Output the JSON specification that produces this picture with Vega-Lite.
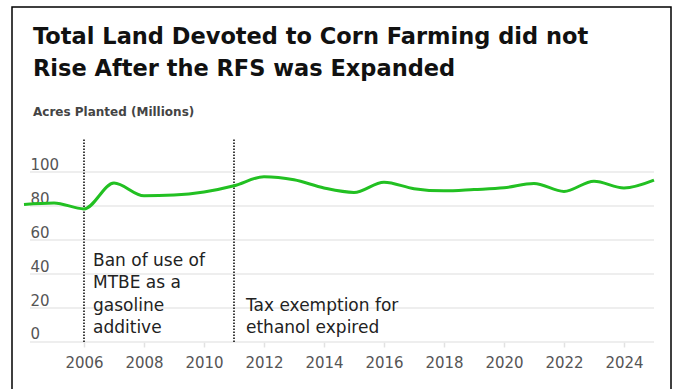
{
  "$schema": "https://vega.github.io/schema/vega-lite/v6.json",
  "width": 659,
  "height": 390,
  "autosize": {"type": "none"},
  "padding": {"left": 12, "top": 7, "right": 5, "bottom": 0},
  "background": "white",
  "config": {
    "view": {"stroke": "#000", "strokeWidth": 1.5},
    "font": "DejaVu Sans"
  },
  "title": {
    "text": ["Total Land Devoted to Corn Farming did not", "Rise After the RFS was Expanded"],
    "subtitle": "Acres Planted (Millions)",
    "anchor": "start",
    "frame": "group",
    "offset": -111,
    "dx": 21,
    "fontSize": 22.5,
    "fontWeight": "bold",
    "color": "#111",
    "lineHeight": 31.5,
    "subtitleFontSize": 12,
    "subtitleFontWeight": "bold",
    "subtitleColor": "#444",
    "subtitlePadding": 27
  },
  "datasets": {
    "acres": [
      {"year": 2004, "acres": 80.9},
      {"year": 2005, "acres": 81.8},
      {"year": 2006, "acres": 78.3},
      {"year": 2007, "acres": 93.5},
      {"year": 2008, "acres": 86.0},
      {"year": 2009, "acres": 86.4},
      {"year": 2010, "acres": 88.2},
      {"year": 2011, "acres": 91.9},
      {"year": 2012, "acres": 97.2},
      {"year": 2013, "acres": 95.4},
      {"year": 2014, "acres": 90.6},
      {"year": 2015, "acres": 88.0},
      {"year": 2016, "acres": 94.0},
      {"year": 2017, "acres": 90.2},
      {"year": 2018, "acres": 88.9},
      {"year": 2019, "acres": 89.7},
      {"year": 2020, "acres": 90.7},
      {"year": 2021, "acres": 93.3},
      {"year": 2022, "acres": 88.6},
      {"year": 2023, "acres": 94.6},
      {"year": 2024, "acres": 90.6},
      {"year": 2025, "acres": 95.2}
    ],
    "grid": [{"g": 0}, {"g": 20}, {"g": 40}, {"g": 60}, {"g": 80}, {"g": 100}],
    "events": [{"year": 2006}, {"year": 2011}],
    "mtbe": [{"year": 2006, "note": "Ban of use of\nMTBE as a\ngasoline\nadditive"}],
    "tax": [{"year": 2011, "note": "Tax exemption for\nethanol expired"}]
  },
  "layer": [
    {
      "data": {"name": "grid"},
      "mark": {"type": "rule", "color": "#e9e9e9", "strokeWidth": 1.5},
      "encoding": {
        "y": {"field": "g", "type": "quantitative"},
        "x": {"datum": 2004.2},
        "x2": {"datum": 2025}
      }
    },
    {
      "data": {"name": "events"},
      "mark": {"type": "rule", "color": "#000", "strokeWidth": 1.5, "strokeDash": [1.5, 1.5]},
      "encoding": {
        "x": {"field": "year", "type": "quantitative"},
        "y": {"datum": 0},
        "y2": {"datum": 120}
      }
    },
    {
      "data": {"name": "mtbe"},
      "mark": {"type": "text", "align": "left", "baseline": "alphabetic", "dx": 9, "fontSize": 17, "lineHeight": 22.6, "lineBreak": "\n", "color": "#222"},
      "encoding": {
        "x": {"field": "year", "type": "quantitative"},
        "y": {"datum": 44.9},
        "text": {"field": "note"}
      }
    },
    {
      "data": {"name": "tax"},
      "mark": {"type": "text", "align": "left", "baseline": "alphabetic", "dx": 12, "fontSize": 17, "lineHeight": 22.6, "lineBreak": "\n", "color": "#222"},
      "encoding": {
        "x": {"field": "year", "type": "quantitative"},
        "y": {"datum": 18.3},
        "text": {"field": "note"}
      }
    },
    {
      "data": {"name": "acres"},
      "mark": {"type": "line", "interpolate": "monotone", "color": "#22c022", "strokeWidth": 3},
      "encoding": {
        "x": {
          "field": "year", "type": "quantitative",
          "scale": {"domain": [2003.6, 2025.5667], "nice": false, "zero": false},
          "axis": {
            "values": [2006, 2008, 2010, 2012, 2014, 2016, 2018, 2020, 2022, 2024],
            "format": "d", "title": null, "grid": false, "domain": false,
            "ticks": true, "tickColor": "#e2e2e2", "tickSize": 5, "tickWidth": 1.5,
            "labelFontSize": 15, "labelColor": "#555", "labelPadding": 8,
            "offset": -55
          }
        },
        "y": {
          "field": "acres", "type": "quantitative",
          "scale": {"domain": [-32.353, 197.059], "nice": false, "zero": false},
          "axis": {
            "values": [0, 20, 40, 60, 80, 100],
            "title": null, "grid": false, "domain": false, "ticks": false, "tickSize": 0,
            "labelAlign": "left", "labelBaseline": "alphabetic", "labelPadding": 0,
            "labelOffset": -3, "labelFontSize": 15, "labelColor": "#555",
            "offset": -18
          }
        }
      }
    }
  ]
}
